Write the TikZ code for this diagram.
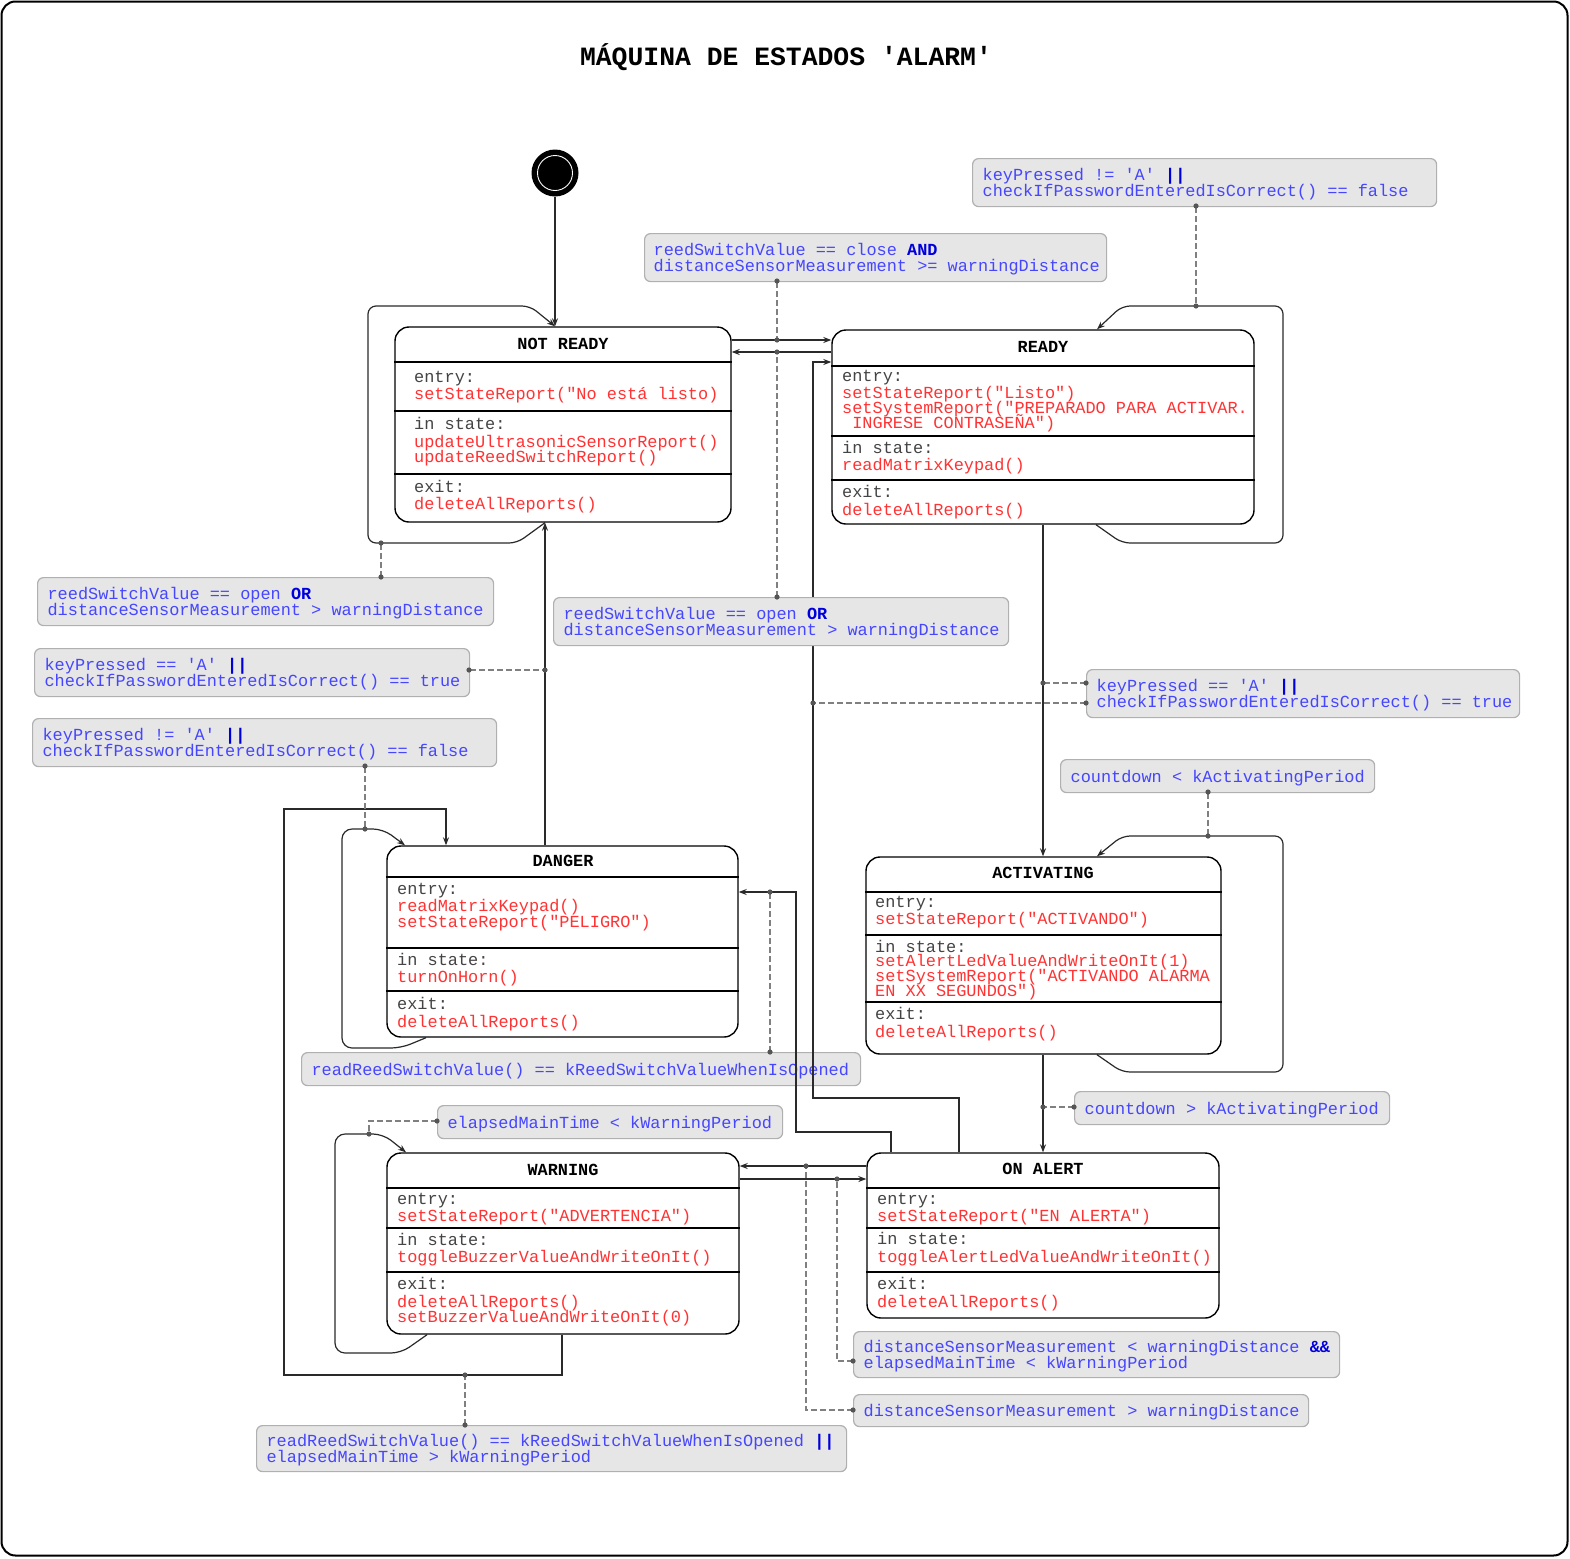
\documentclass[tikz,border=0pt]{standalone}
\usepackage{fontspec}
\setmonofont{Liberation Mono}
\usetikzlibrary{arrows.meta}
\definecolor{actc}{HTML}{FF3333}
\definecolor{kwc}{HTML}{444444}
\definecolor{lbt}{HTML}{4646FF}
\definecolor{lbk}{HTML}{0000DD}
\definecolor{lbf}{HTML}{E6E6E6}
\definecolor{lbd}{HTML}{B0B0B0}
\definecolor{trc}{HTML}{2A2A2A}
\definecolor{dsc}{HTML}{808080}
\definecolor{dtc}{HTML}{555555}
\newcommand\monof{\ttfamily\fontsize{16.9pt}{15.5pt}\selectfont\lineskiplimit=-40pt\relax}
\newcommand\titlef{\ttfamily\bfseries\fontsize{26.4pt}{30pt}\selectfont}
\newcommand\myact[1]{\textcolor{actc}{#1}}
\newcommand\mysec[1]{\textcolor{kwc}{#1}}
\newcommand\mykw[1]{\textcolor{lbk}{\bfseries #1}}
\newcommand\myq{\textquotesingle}
\newcommand\lsa{\rule{0pt}{16pt}}
\newcommand\lsb{\rule[-4pt]{0pt}{4pt}}
\newcommand\mynosp{\spaceskip=0pt\xspaceskip=0pt\relax}
\newcommand\mytwo[2]{\mynosp\mbox{\lsa#1}\\\mbox{\mynosp#2\lsb}}
\newcommand\myone[1]{\mynosp\mbox{\lsa#1\lsb}}
\newcommand\mytk[4]{\node[tk] (#1) at (#2,#3) {#4};}
\newcommand\mydot[2]{\fill[dtc] (#1,#2) circle (2.6pt);}
\pgfdeclarelayer{bgg}
\pgfdeclarelayer{bg}
\pgfsetlayers{bgg,bg,main}
\tikzset{
  stbox/.style={draw=black, line width=1.4pt, rounded corners=14pt, inner sep=0pt, fill=white},
  sepl/.style={draw=black, line width=1.2pt},
  hdr/.style={font={\monof\bfseries}, anchor=base, inner sep=0pt},
  tk/.style={font=\monof, anchor=base west, inner sep=0pt},
  lbox/.style={draw=lbd, fill=lbf, line width=1.2pt, rounded corners=6pt, anchor=north west,
    inner xsep=10pt, inner ysep=0pt, align=left, font=\monof, text=lbt},
  tr/.style={draw=trc, line width=1.2pt, -{Stealth[length=8pt,width=6pt]}},
  dsh/.style={draw=dsc, line width=1.2pt, dash pattern=on 6pt off 3pt},
}
\begin{document}
\begin{tikzpicture}[x=1pt,y=-1pt]
\useasboundingbox (0,0) rectangle (1570,1558);
\draw[line width=2pt, rounded corners=14pt] (1.5,1.5) rectangle (1567.5,1555.5);

\node[font=\titlef, anchor=base, inner sep=0pt] (title) at (786,65.5) {MÁQUINA DE ESTADOS \myq ALARM\myq};

% initial state
\node[circle, fill=black, minimum size=47pt, inner sep=0pt] (init) at (555,173) {};
\draw[white, line width=0.9pt] (init.center) circle (17.5pt);

% ---------- states ----------
\node[stbox, minimum width=336pt, minimum height=195pt] (nr) at (563,424.5) {};
\foreach \yy in {362,411,474} \draw[sepl] (nr.west |- 0,\yy) -- (nr.east |- 0,\yy);
\node[hdr] (nrh) at (563,349) {NOT READY};
\mytk{nr1}{414}{382}{\mysec{entry:}}
\mytk{nr2}{414}{399}{\myact{setStateReport("No está listo)}}
\mytk{nr3}{414}{429}{\mysec{in state:}}
\mytk{nr4}{414}{447}{\myact{updateUltrasonicSensorReport()}}
\mytk{nr5}{414}{462}{\myact{updateReedSwitchReport()}}
\mytk{nr6}{414}{492}{\mysec{exit:}}
\mytk{nr7}{414}{509}{\myact{deleteAllReports()}}

\node[stbox, minimum width=422pt, minimum height=194pt] (rd) at (1043,427) {};
\foreach \yy in {366,436,480} \draw[sepl] (rd.west |- 0,\yy) -- (rd.east |- 0,\yy);
\node[hdr] (rdh) at (1043,352) {READY};
\mytk{rd1}{842}{381}{\mysec{entry:}}
\mytk{rd2}{842}{398}{\myact{setStateReport("Listo")}}
\mytk{rd3}{842}{413}{\myact{setSystemReport("PREPARADO PARA ACTIVAR.}}
\mytk{rd4}{842}{428}{\myact{~INGRESE CONTRASEÑA")}}
\mytk{rd5}{842}{453}{\mysec{in state:}}
\mytk{rd6}{842}{470}{\myact{readMatrixKeypad()}}
\mytk{rd7}{842}{497}{\mysec{exit:}}
\mytk{rd8}{842}{515}{\myact{deleteAllReports()}}

\node[stbox, minimum width=351pt, minimum height=191pt] (dg) at (562.5,941.5) {};
\foreach \yy in {877,948,991} \draw[sepl] (dg.west |- 0,\yy) -- (dg.east |- 0,\yy);
\node[hdr] (dgh) at (563,866) {DANGER};
\mytk{dg1}{397}{894}{\mysec{entry:}}
\mytk{dg2}{397}{911}{\myact{readMatrixKeypad()}}
\mytk{dg3}{397}{927}{\myact{setStateReport("PELIGRO")}}
\mytk{dg4}{397}{965}{\mysec{in state:}}
\mytk{dg5}{397}{982}{\myact{turnOnHorn()}}
\mytk{dg6}{397}{1009}{\mysec{exit:}}
\mytk{dg7}{397}{1027}{\myact{deleteAllReports()}}

\node[stbox, minimum width=355pt, minimum height=197pt] (ac) at (1043.5,955.5) {};
\foreach \yy in {892,935,1002} \draw[sepl] (ac.west |- 0,\yy) -- (ac.east |- 0,\yy);
\node[hdr] (ach) at (1043,878) {ACTIVATING};
\mytk{ac1}{875}{907}{\mysec{entry:}}
\mytk{ac2}{875}{924}{\myact{setStateReport("ACTIVANDO")}}
\mytk{ac3}{875}{952}{\mysec{in state:}}
\mytk{ac4}{875}{966}{\myact{setAlertLedValueAndWriteOnIt(1)}}
\mytk{ac5}{875}{981}{\myact{setSystemReport("ACTIVANDO ALARMA}}
\mytk{ac6}{875}{996}{\myact{EN XX SEGUNDOS")}}
\mytk{ac7}{875}{1019}{\mysec{exit:}}
\mytk{ac8}{875}{1037}{\myact{deleteAllReports()}}

\node[stbox, minimum width=352pt, minimum height=181pt] (wr) at (563,1243.5) {};
\foreach \yy in {1188,1228,1272} \draw[sepl] (wr.west |- 0,\yy) -- (wr.east |- 0,\yy);
\node[hdr] (wrh) at (563,1175) {WARNING};
\mytk{wr1}{397}{1204}{\mysec{entry:}}
\mytk{wr2}{397}{1221}{\myact{setStateReport("ADVERTENCIA")}}
\mytk{wr3}{397}{1245}{\mysec{in state:}}
\mytk{wr4}{397}{1262}{\myact{toggleBuzzerValueAndWriteOnIt()}}
\mytk{wr5}{397}{1289}{\mysec{exit:}}
\mytk{wr6}{397}{1307}{\myact{deleteAllReports()}}
\mytk{wr7}{397}{1322}{\myact{setBuzzerValueAndWriteOnIt(0)}}

\node[stbox, minimum width=352pt, minimum height=165pt] (oa) at (1043,1235.5) {};
\foreach \yy in {1188,1228,1272} \draw[sepl] (oa.west |- 0,\yy) -- (oa.east |- 0,\yy);
\node[hdr] (oah) at (1043,1174) {ON ALERT};
\mytk{oa1}{877}{1204}{\mysec{entry:}}
\mytk{oa2}{877}{1221}{\myact{setStateReport("EN ALERTA")}}
\mytk{oa3}{877}{1244}{\mysec{in state:}}
\mytk{oa4}{877}{1262}{\myact{toggleAlertLedValueAndWriteOnIt()}}
\mytk{oa5}{877}{1289}{\mysec{exit:}}
\mytk{oa6}{877}{1307}{\myact{deleteAllReports()}}

% ---------- guard labels ----------
\node[lbox, text width=444pt, minimum height=48pt] (l1) at (972,158)
  {\mytwo{keyPressed != \myq A\myq{} \mykw{||}}{checkIfPasswordEnteredIsCorrect() == false}};
\node[lbox, minimum height=48pt, inner xsep=9pt, text width=444pt] (l2) at (644,233)
  {\mytwo{reedSwitchValue == close \mykw{AND}}{distanceSensorMeasurement >= warningDistance}};
\node[lbox, text width=436pt, minimum height=48pt] (l3) at (37,577)
  {\mytwo{reedSwitchValue == open \mykw{OR}}{distanceSensorMeasurement > warningDistance}};
\node[lbox, text width=435pt, minimum height=48pt] (l4) at (553,597)
  {\mytwo{reedSwitchValue == open \mykw{OR}}{distanceSensorMeasurement > warningDistance}};
\node[lbox, text width=415pt, minimum height=48pt] (l5) at (34,648)
  {\mytwo{keyPressed == \myq A\myq{} \mykw{||}}{checkIfPasswordEnteredIsCorrect() == true}};
\node[lbox, text width=413pt, minimum height=48pt] (l6) at (1086,669)
  {\mytwo{keyPressed == \myq A\myq{} \mykw{||}}{checkIfPasswordEnteredIsCorrect() == true}};
\node[lbox, text width=444pt, minimum height=48pt] (l7) at (32,718)
  {\mytwo{keyPressed != \myq A\myq{} \mykw{||}}{checkIfPasswordEnteredIsCorrect() == false}};
\node[lbox, text width=294pt, minimum height=33pt] (l8) at (1060,759)
  {\myone{countdown < kActivatingPeriod}};
\begin{pgfonlayer}{bgg}
\node[lbox, text width=539pt, minimum height=33pt] (l9) at (301,1052)
  {\myone{readReedSwitchValue() == kReedSwitchValueWhenIsOpened}};
\end{pgfonlayer}
\node[lbox, text width=295pt, minimum height=33pt] (l10) at (1074,1091)
  {\myone{countdown > kActivatingPeriod}};
\node[lbox, text width=325pt, minimum height=33pt] (l11) at (437,1105)
  {\myone{elapsedMainTime < kWarningPeriod}};
\node[lbox, text width=466pt, minimum height=46pt] (l12) at (853,1331)
  {\mytwo{distanceSensorMeasurement < warningDistance \mykw{\&\&}}{elapsedMainTime < kWarningPeriod}};
\node[lbox, text width=435pt, minimum height=32pt] (l13) at (853,1394)
  {\myone{distanceSensorMeasurement > warningDistance}};
\node[lbox, text width=570pt, minimum height=46pt] (l14) at (256,1425)
  {\mytwo{readReedSwitchValue() == kReedSwitchValueWhenIsOpened \mykw{||}}{elapsedMainTime > kWarningPeriod}};

% ---------- transitions ----------
\begin{pgfonlayer}{bg}
\draw[tr] (init.south) -- (init.south |- nr.north);
\draw[tr, rounded corners=8pt] (545,0 |- nr.south) -- (517,543) -- (368,543) -- (368,306) -- (530,306) -- (555,0 |- nr.north);
\draw[tr] (nr.east |- 0,340) -- (rd.west |- 0,340);
\draw[tr] (rd.west |- 0,352) -- (nr.east |- 0,352);
\draw[tr] (959,0 |- oa.north) -- (959,1098) -- (813,1098) -- (813,362) -- (rd.west |- 0,362);
\draw[tr, rounded corners=8pt] (1096,0 |- rd.south) -- (1122,543) -- (1283,543) -- (1283,306) -- (1122,306) -- (1097,0 |- rd.north);
\draw[tr] (1043,0 |- rd.south) -- (1043,0 |- ac.north);
\draw[tr, rounded corners=8pt] (1097,0 |- ac.south) -- (1122,1072) -- (1283,1072) -- (1283,836) -- (1122,836) -- (1097,0 |- ac.north);
\draw[tr] (1043,0 |- ac.south) -- (1043,0 |- oa.north);
\draw[tr] (545,0 |- dg.north) -- (545,0 |- nr.south);
\draw[tr, rounded corners=10pt] (426,0 |- dg.south) -- (401,1048) -- (342,1048) -- (342,829) -- (383,829) -- (405,0 |- dg.north);
\draw[tr] (562,0 |- wr.south) -- (562,1375) -- (284,1375) -- (284,809) -- (446,809) -- (446,0 |- dg.north);
\draw[tr] (891,0 |- oa.north) -- (891,1132) -- (796,1132) -- (796,892) -- (dg.east |- 0,892);
\draw[tr] (oa.west |- 0,1166) -- (wr.east |- 0,1166);
\draw[tr] (wr.east |- 0,1179) -- (oa.west |- 0,1179);
\draw[tr, rounded corners=10pt] (427,0 |- wr.south) -- (401,1353) -- (335,1353) -- (335,1134) -- (383,1134) -- (406,0 |- wr.north);
% guard links
\draw[dsh] (777,0 |- l2.south) -- (777,340);
\draw[dsh] (777,0 |- l4.north) -- (777,352);
\draw[dsh] (1196,0 |- l1.south) -- (1196,306);
\draw[dsh] (381,0 |- l3.north) -- (381,543);
\draw[dsh] (l6.west |- 0,683) -- (1043,683);
\draw[dsh] (l6.west |- 0,703) -- (813,703);
\draw[dsh] (1208,0 |- l8.south) -- (1208,836);
\draw[dsh] (l10.west |- 0,1107) -- (1043,1107);
\draw[dsh] (l5.east |- 0,670) -- (545,670);
\draw[dsh] (365,0 |- l7.south) -- (365,829);
\draw[dsh] (465,0 |- l14.north) -- (465,1375);
\draw[dsh] (770,0 |- l9.north) -- (770,892);
\draw[dsh] (l13.west |- 0,1410) -- (806,1410) -- (806,1166);
\draw[dsh] (l12.west |- 0,1361) -- (837,1361) -- (837,1179);
\draw[dsh] (l11.west |- 0,1121) -- (369,1121) -- (369,1134);
\end{pgfonlayer}

% ---------- dots ----------
\mydot{777}{281}\mydot{777}{340}\mydot{777}{352}\mydot{777}{597}
\mydot{1196}{206}\mydot{1196}{306}
\mydot{381}{543}\mydot{381}{577}
\mydot{1043}{683}\mydot{1086}{683}\mydot{813}{703}\mydot{1086}{703}
\mydot{1208}{792}\mydot{1208}{836}
\mydot{1043}{1107}\mydot{1074}{1107}
\mydot{545}{670}\mydot{469}{670}
\mydot{365}{766}\mydot{365}{829}
\mydot{465}{1375}\mydot{465}{1425}
\mydot{770}{892}\mydot{770}{1052}
\mydot{806}{1166}\mydot{853}{1410}
\mydot{837}{1179}\mydot{853}{1361}
\mydot{369}{1134}\mydot{437}{1121}
\end{tikzpicture}
\end{document}
